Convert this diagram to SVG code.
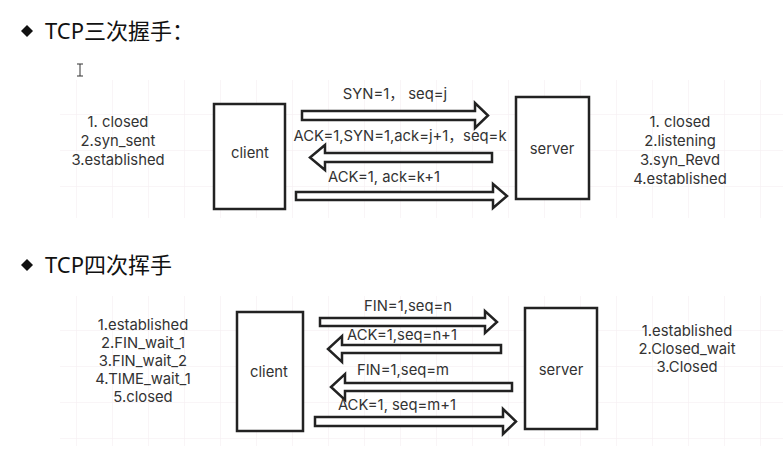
<svg xmlns="http://www.w3.org/2000/svg" width="783" height="468" viewBox="0 0 783 468">
<style>
.t{font-family:Inter,"Noto Sans CJK SC",sans-serif;font-size:14.8px;fill:#333;}
.c{text-anchor:middle;}
.title{font-family:"Noto Sans","Noto Sans CJK SC",sans-serif;font-size:22px;fill:#111;}
.box{fill:#fff;stroke:#222;stroke-width:2.5;}
.arr{fill:#fff;stroke:#222;stroke-width:2.5;stroke-linejoin:miter;}
.grid{stroke:#f4ecef;stroke-width:1;}
</style>
<defs>
<pattern id="g" width="36" height="36" patternUnits="userSpaceOnUse" x="4" y="6">
<path d="M0 0H36M0 0V36" class="grid" fill="none"/>
</pattern>
</defs>
<rect width="783" height="468" fill="#fff"/>
<rect x="60" y="80" width="723" height="138" fill="url(#g)"/>
<rect x="60" y="296" width="723" height="150" fill="url(#g)"/>

<g id="title1">
<path d="M27 25L33 31L27 37L21 31Z" fill="#111"/>
<text x="45" y="39" class="title">TCP三次握手：</text>
</g>
<path d="M77 64H83M80 64V76M77 76H83" stroke="#333" stroke-width="1" fill="none"/>

<g id="client1">
<rect x="214" y="104" width="71" height="105" class="box"/>
<text x="250" y="158" class="t c">client</text>
</g>
<g id="server1">
<rect x="516" y="97" width="73" height="102" class="box"/>
<text x="552" y="154" class="t c">server</text>
</g>
<g id="states1c">
<text x="118" y="127" class="t c">1. closed</text>
<text x="118" y="146" class="t c">2.syn_sent</text>
<text x="118" y="165" class="t c">3.established</text>
</g>
<g id="states1s">
<text x="680" y="127" class="t c">1. closed</text>
<text x="680" y="146" class="t c">2.listening</text>
<text x="680" y="165" class="t c">3.syn_Revd</text>
<text x="680" y="184" class="t c">4.established</text>
</g>

<g id="connectors1">
<polygon class="arr" points="302,111 475,111 475,103 488,115.5 475,128 475,120 302,120"/>
<polygon class="arr" points="492,153 325,153 325,145 310,157.5 325,170 325,162 492,162"/>
<polygon class="arr" points="296,192 493,192 493,184 507,196 493,208 493,200 296,200"/>
<text x="395" y="99" class="t c">SYN=1，  seq=j</text>
<text x="400" y="141" class="t c">ACK=1,SYN=1,ack=j+1，seq=k</text>
<text x="384" y="182" class="t c">ACK=1, ack=k+1</text>
</g>

<g id="title2">
<path d="M27 259L33 265L27 271L21 265Z" fill="#111"/>
<text x="45" y="273" class="title">TCP四次挥手</text>
</g>

<g id="client2">
<rect x="237" y="312" width="66" height="119" class="box"/>
<text x="269" y="377" class="t c">client</text>
</g>
<g id="server2">
<rect x="525" y="308" width="72" height="121" class="box"/>
<text x="561" y="375" class="t c">server</text>
</g>
<g id="states2c">
<text x="143" y="330" class="t c">1.established</text>
<text x="143" y="348" class="t c">2.FIN_wait_1</text>
<text x="143" y="366" class="t c">3.FIN_wait_2</text>
<text x="143" y="384" class="t c">4.TIME_wait_1</text>
<text x="143" y="402" class="t c">5.closed</text>
</g>
<g id="states2s">
<text x="687" y="336" class="t c">1.established</text>
<text x="687" y="354" class="t c">2.Closed_wait</text>
<text x="687" y="372" class="t c">3.Closed</text>
</g>

<g id="connectors2">
<polygon class="arr" points="320,318 485,318 485,311 497,322 485,333 485,326 320,326"/>
<polygon class="arr" points="501,345 342,345 342,336 328,349 342,362 342,353 501,353"/>
<polygon class="arr" points="512,383 345,383 345,374 331,387 345,400 345,391 512,391"/>
<polygon class="arr" points="315,417 503,417 503,409 516,421.5 503,434 503,426 315,426"/>
<text x="408" y="311" class="t c">FIN=1,seq=n</text>
<text x="402" y="340" class="t c">ACK=1,seq=n+1</text>
<text x="403" y="375" class="t c">FIN=1,seq=m</text>
<text x="397" y="410" class="t c">ACK=1, seq=m+1</text>
</g>
</svg>
